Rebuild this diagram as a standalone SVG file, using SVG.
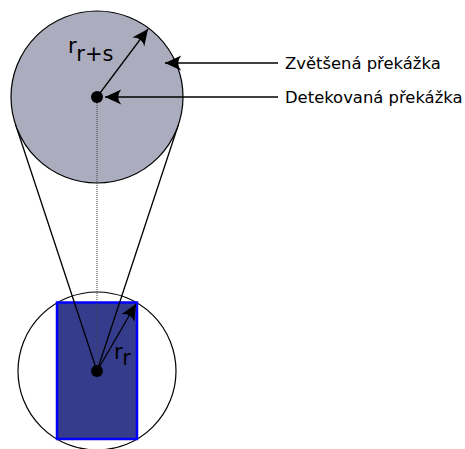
<svg xmlns="http://www.w3.org/2000/svg" width="465" height="449" viewBox="0 0 465 449">
<style>
.ln{stroke:#000;stroke-width:1.3;fill:none}
.arr{stroke:#000;stroke-width:1.3;fill:none;marker-end:url(#ah)}
.lbl{font-family:"DejaVu Sans",Verdana,sans-serif;font-size:16.4px;fill:#000}
.rl{font-family:"DejaVu Sans",Verdana,sans-serif;font-size:21px;fill:#000}
</style>
<defs>
<marker id="ah" markerUnits="userSpaceOnUse" markerWidth="20" markerHeight="20" viewBox="-14 -7 16 14" refX="0" refY="0" orient="auto">
<path d="M0,0 L-13,-6 Q-8,0 -13,6 Z" fill="#000"/>
</marker>
</defs>
<rect width="465" height="449" fill="#fff"/>
<g id="robot">
<circle cx="97" cy="371" r="79" fill="none" stroke="#000" stroke-width="1.2"/>
<rect x="57" y="302.5" width="80" height="136.5" fill="#353c8b" stroke="#0000ff" stroke-width="2.5"/>
</g>
<g id="connectors">
<line class="ln" x1="15.4" y1="124" x2="97" y2="371"/>
<line class="ln" x1="178.6" y1="124" x2="97" y2="371"/>
</g>
<g id="obstacle">
<circle cx="97" cy="97" r="86" fill="#abacbd" stroke="#000" stroke-width="1.2"/>
</g>
<g id="dotted">
<line x1="97" y1="97" x2="97" y2="371" stroke="#444" stroke-width="1" stroke-dasharray="1,1"/>
</g>
<g id="arrows">
<line class="arr" x1="97" y1="97" x2="148" y2="29"/>
<line class="arr" x1="97" y1="371" x2="136" y2="304"/>
<line class="arr" x1="278" y1="63" x2="165" y2="63"/>
<line class="arr" x1="278" y1="97" x2="105" y2="97"/>
</g>
<g id="center-top"><circle cx="97" cy="97" r="6" fill="#000"/></g>
<g id="center-bottom"><circle cx="97" cy="371" r="6" fill="#000"/></g>
<g id="label-rrs"><text class="rl" x="68" y="53">r<tspan dy="8">r+s</tspan></text></g>
<g id="label-rr"><text class="rl" x="114" y="359">r<tspan dy="6">r</tspan></text></g>
<g id="label-zvetsena"><text class="lbl" x="285" y="69">Zvětšená překážka</text></g>
<g id="label-detekovana"><text class="lbl" x="285" y="103">Detekovaná překážka</text></g>
</svg>
